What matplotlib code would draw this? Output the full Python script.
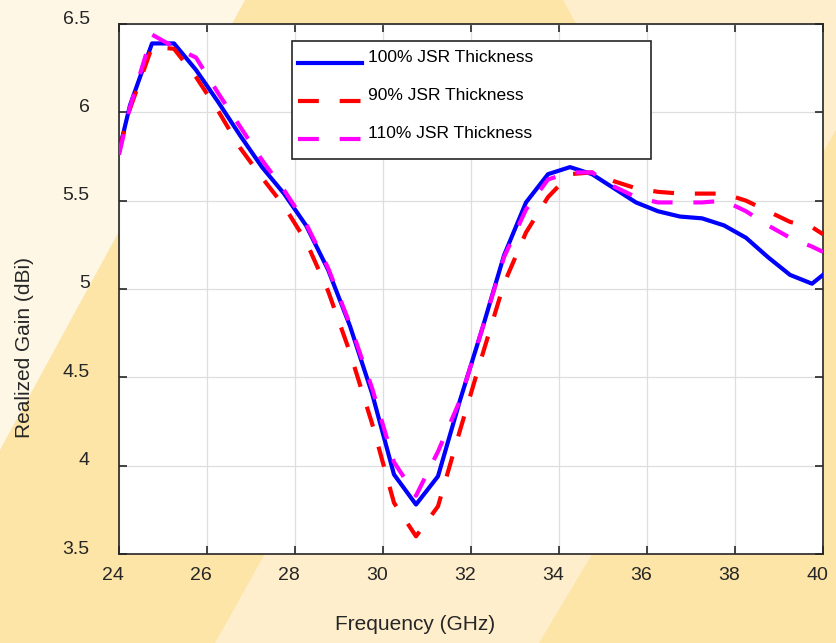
import numpy as np
import matplotlib
matplotlib.use("Agg")
import matplotlib.pyplot as plt
from matplotlib.patches import Polygon, Rectangle
from matplotlib.transforms import ScaledTranslation

plt.rcParams['font.family'] = ['Liberation Sans', 'DejaVu Sans']

# frequency samples (GHz)
freq = [24.0, 24.25, 24.75, 25.25, 25.75, 26.25, 26.75, 27.25, 27.75, 28.25,
        28.75, 29.25, 29.75, 30.25, 30.75, 31.25, 31.75, 32.25, 32.75, 33.25,
        33.75, 34.25, 34.75, 35.25, 35.75, 36.25, 36.75, 37.25, 37.75, 38.25,
        38.75, 39.25, 39.75, 40.0]

gain_100 = [5.78, 6.04, 6.39, 6.39, 6.24, 6.06, 5.87, 5.69, 5.54, 5.36,
            5.11, 4.79, 4.41, 3.95, 3.78, 3.94, 4.37, 4.77, 5.19, 5.49,
            5.65, 5.69, 5.65, 5.57, 5.49, 5.44, 5.41, 5.40, 5.36, 5.29,
            5.18, 5.08, 5.03, 5.08]

gain_90 = [5.78, 6.02, 6.37, 6.36, 6.20, 6.01, 5.80, 5.63, 5.47, 5.27,
           4.99, 4.64, 4.24, 3.79, 3.60, 3.77, 4.20, 4.62, 5.03, 5.32,
           5.52, 5.65, 5.66, 5.61, 5.57, 5.55, 5.54, 5.54, 5.54, 5.50,
           5.44, 5.38, 5.35, 5.31]

gain_110 = [5.76, 6.03, 6.44, 6.37, 6.31, 6.11, 5.92, 5.73, 5.56, 5.37,
            5.12, 4.80, 4.44, 4.02, 3.83, 4.08, 4.37, 4.77, 5.18, 5.45,
            5.62, 5.66, 5.66, 5.58, 5.52, 5.49, 5.49, 5.49, 5.50, 5.44,
            5.36, 5.29, 5.24, 5.21]

labels = ['100% JSR Thickness', '90% JSR Thickness', '110% JSR Thickness']
xticks = [24, 26, 28, 30, 32, 34, 36, 38, 40]
yticks = [3.5, 4, 4.5, 5, 5.5, 6, 6.5]

W, H = 836, 643
fig = plt.figure(figsize=(W / 100, H / 100), dpi=100)
fig.patch.set_facecolor('#FEF7E6')


def px(pts):
    return [(x / W, 1 - y / H) for x, y in pts]


# decorative background bands
bg = [
    ([(0, 450), (245, 0), (836, 0), (836, 643), (0, 643)], '#FDE4A7'),
    ([(563, 0), (836, 0), (836, 130), (733, 310)], '#FEEECB'),
    ([(215, 643), (407, 300), (744, 300), (539, 643)], '#FEEECB'),
]
for pts, c in bg:
    fig.patches.append(Polygon(px(pts), closed=True, facecolor=c, edgecolor='none',
                               transform=fig.transFigure, zorder=-10))

ax = fig.add_axes([119 / W, 1 - 554 / H, 704 / W, 530 / H])
ax.set_facecolor('white')

ax.plot(freq, gain_100, color='#0000FF', lw=3, label=labels[0], zorder=3)
ax.plot(freq, gain_90, color='#FF0000', lw=3, dashes=(5, 5), label=labels[1], zorder=4)
ax.plot(freq, gain_110, color='#FF00FF', lw=3, dashes=(5, 5), label=labels[2], zorder=5)

ax.set_xlim(24, 40)
ax.set_ylim(3.5, 6.5)
ax.set_xticks(xticks)
ax.set_yticks(yticks)
ax.set_xticklabels([str(t) for t in xticks])
ax.set_yticklabels(['3.5', '4', '4.5', '5', '5.5', '6', '6.5'])
ax.grid(True, color='#DEDEDE', lw=0.9)
ax.set_axisbelow(True)

for s in ax.spines.values():
    s.set_color('#262626')
    s.set_linewidth(1.2)
ax.tick_params(direction='in', length=5.5, width=1.2, color='#262626',
               top=True, right=True, labelsize=14, labelcolor='#262626')
ax.tick_params(axis='y', pad=21)
ax.tick_params(axis='x', pad=9)

for lab in ax.get_yticklabels():
    lab.set_transform(lab.get_transform() + ScaledTranslation(0, 0.07, fig.dpi_scale_trans))
for lab in ax.get_xticklabels():
    lab.set_transform(lab.get_transform() + ScaledTranslation(-0.06, 0, fig.dpi_scale_trans))

ax.set_xlabel('Frequency (GHz)', fontsize=15, color='#262626', va='center')
ax.xaxis.set_label_coords((415 - 119) / 704, -(625 - 554) / 530)
ax.set_ylabel('Realized Gain (dBi)', fontsize=15, color='#262626', va='center')
ax.yaxis.set_label_coords((25 - 119) / 704, (554 - 348) / 530)

# legend box drawn separately (wide MATLAB-style frame)
ax.add_patch(Rectangle(((292 - 119) / 704, (554 - 159) / 530), 359 / 704, 118 / 530,
                       transform=ax.transAxes, facecolor='white', edgecolor='#262626',
                       lw=1.2, zorder=6, clip_on=False))
leg = ax.legend(loc='upper left', bbox_to_anchor=((298 - 119) / 704, (554 - 57) / 530),
                borderaxespad=0, borderpad=0, fontsize=12.5, frameon=False,
                handlelength=3.7, handletextpad=0.35, labelspacing=1.3)
leg.set_zorder(7)
for t in leg.get_texts():
    t.set_transform(t.get_transform() + ScaledTranslation(0, 0.07, fig.dpi_scale_trans))

fig.savefig('out.png', dpi=100, facecolor=fig.get_facecolor())
